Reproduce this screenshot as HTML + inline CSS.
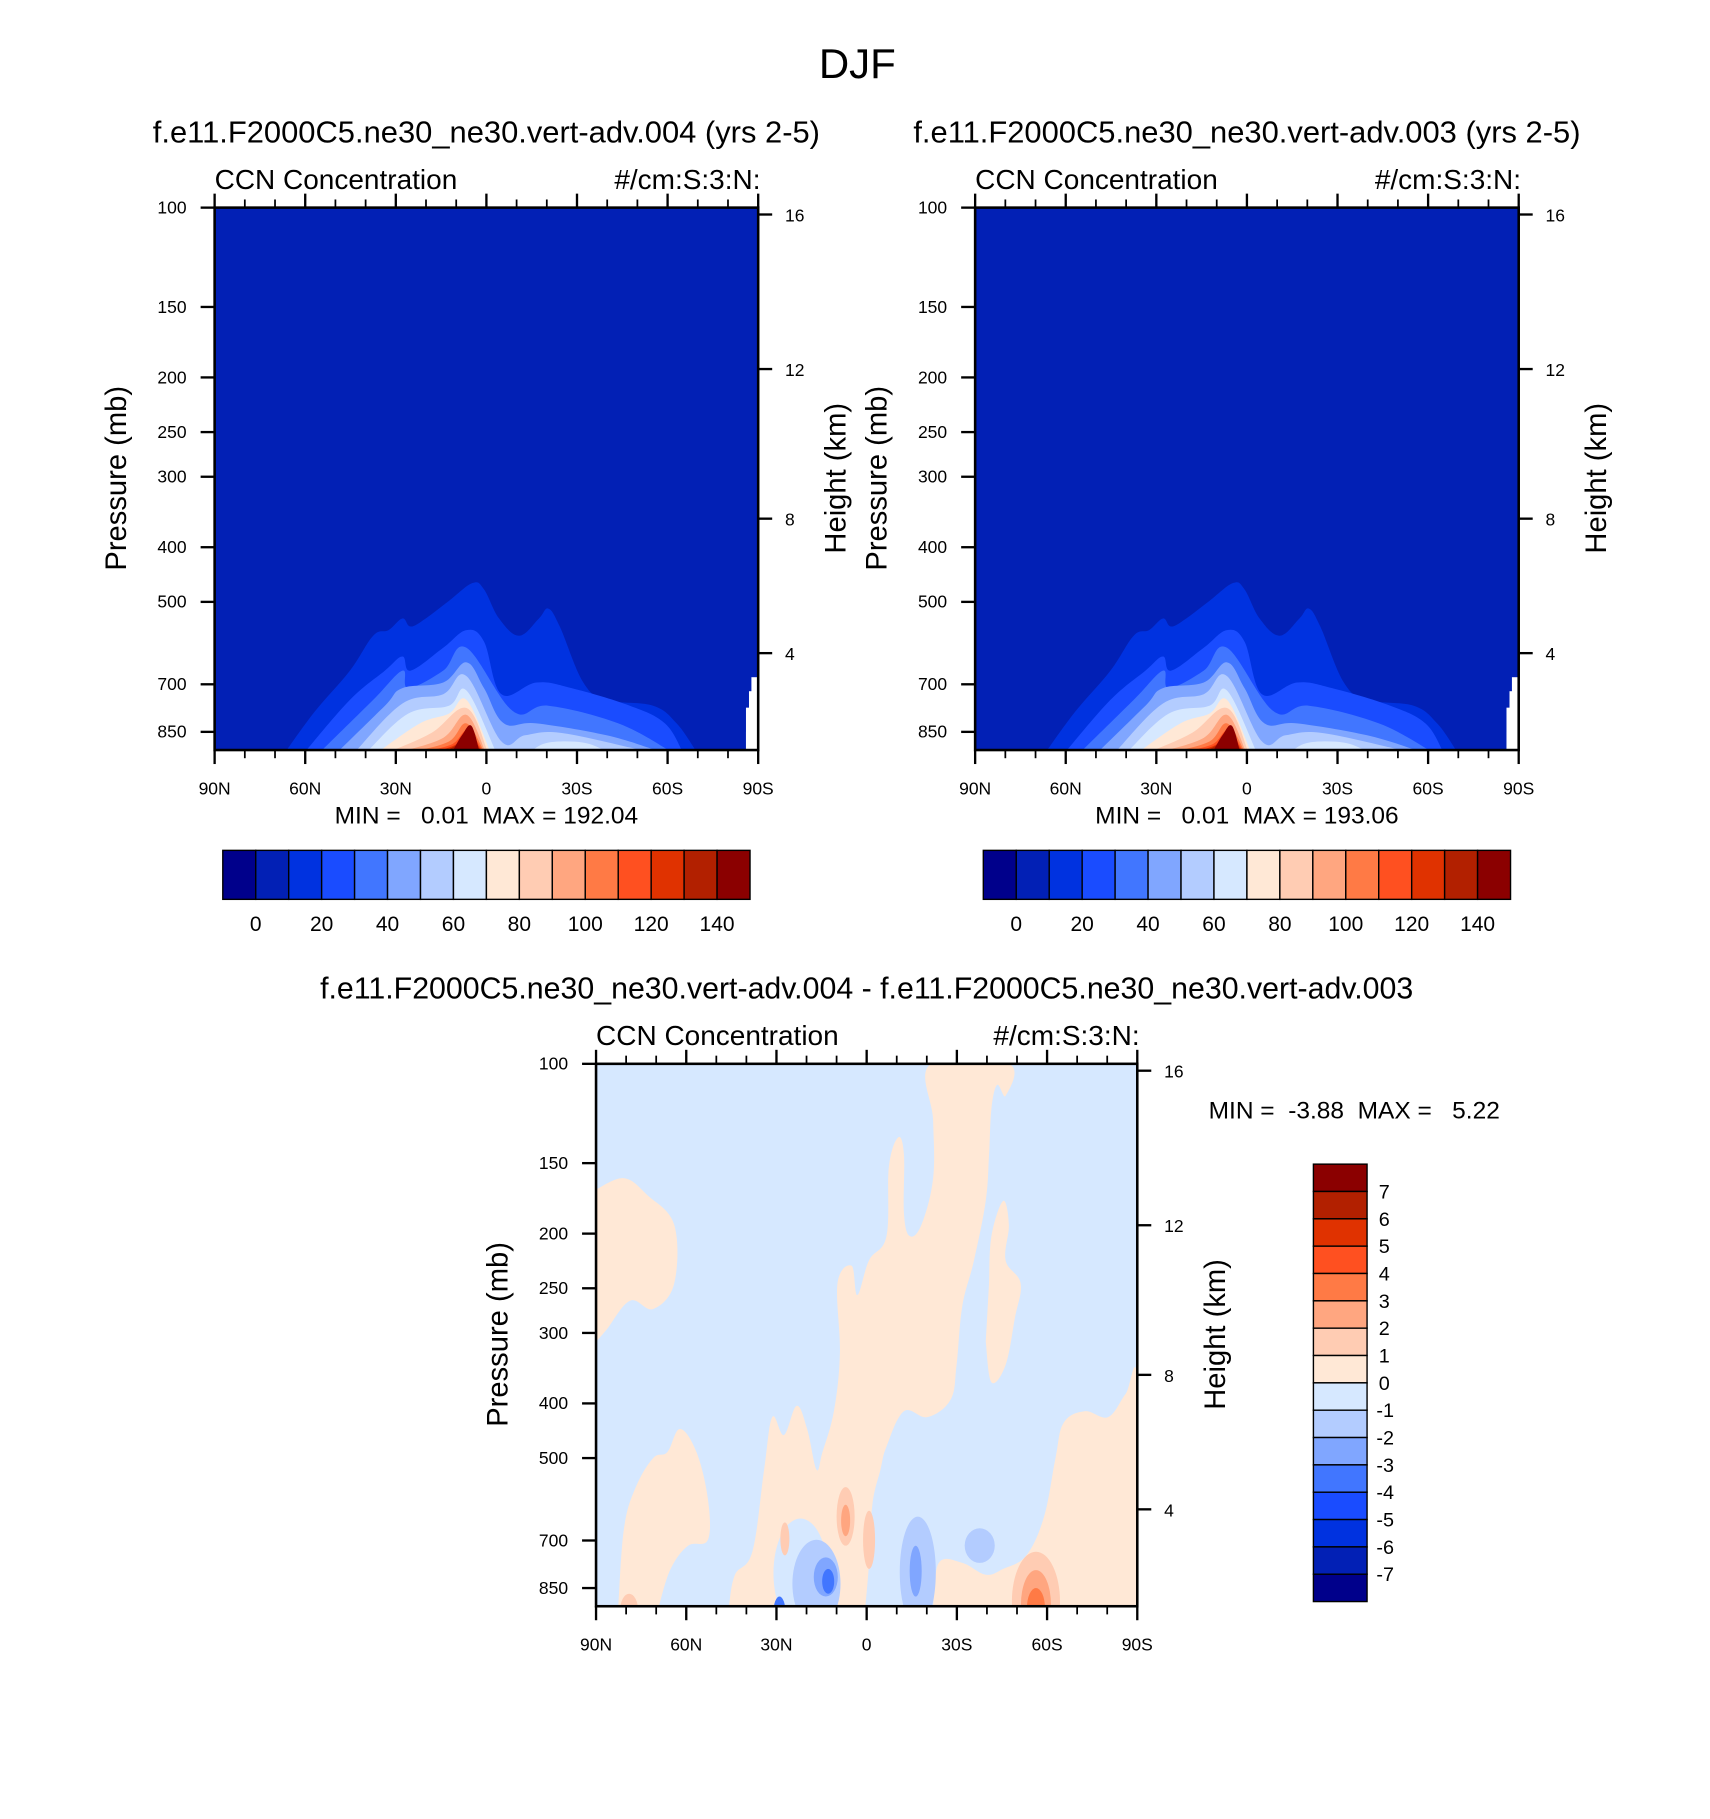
<!DOCTYPE html>
<html><head><meta charset="utf-8"><title>DJF CCN Concentration</title>
<style>html,body{margin:0;padding:0;background:#fff}svg{display:block}text{font-family:"Liberation Sans",Arial,sans-serif;fill:#000;white-space:pre}</style></head>
<body>
<svg id="fig" xmlns="http://www.w3.org/2000/svg" xml:space="preserve" width="1710" height="1819" viewBox="0 0 1466 1559.4" preserveAspectRatio="none">
<text x="735" y="67" font-size="36" text-anchor="middle">DJF</text>
<g id="p1"></g>
<g id="p2"></g>
<g id="p3"></g>
</svg>
<script>
// ---------- data ----------
const colors = ["#00008b","#0220b5","#0032e0","#1a4cff","#4176ff","#80a6ff","#b3ccff","#d6e8ff","#ffe8d6","#ffccb3","#ffa680","#ff7a45","#ff5020","#e03200","#b22000","#8b0000"];
const cbLabelsTop = ["0","20","40","60","80","100","120","140"];
const cbLabelsDiff = ["7","6","5","4","3","2","1","0","-1","-2","-3","-4","-5","-6","-7"];
const latTicks = [90,60,30,0,-30,-60,-90];
const latTickLabels = ["90N","60N","30N","0","30S","60S","90S"];
const pressureTicks = [100,150,200,250,300,400,500,700,850];
const heightTicks = [16,12,8,4];
const lvlIndex = [2,3,4,5,6,7,7,8,9,10,11,12,13,14,15];
const lvlLats = [
 [66.4,56.8,45.2,37.5,32.4,27.8,25.1,20.1,12.4,4.6,0.8,-4.2,-10.8,-17.4,-20.5,-24.3,-32.1,-39.8,-55.2,-63,-69.5],
 [59.9,45.2,33.6,27.8,25.1,14.3,6.6,0.8,-5,-16.6,-28.2,-47.5,-59.1,-64.9],
 [54.8,37.5,27.8,25.9,14.3,6.6,-8.9,-20.5,-43.7,-61],
 [49,33.6,27.8,14.3,6.6,0.8,-5.8,-16.6,-39.8,-57.2],
 [43.3,27.8,14.3,6.6,-5,-12.8,-24.3,-47.5,-51.4],
 [39.4,25.9,12.4,6.6,-3.1],
 [-14.7,-20.5,-32.1,-39.8],
 [35.5,22,12.4,6.6,-1.2],
 [31.7,18.1,6.6,-0.4],
 [27.8,14.3,6.6,0.4],
 [23.9,12.4,6.6,0.8],
 [20.1,11.2,6.2,1.2],
 [16.2,10.4,5.8,1.5],
 [13.5,9.2,5.4,1.9],
 [11.2,8.1,5,2.3]
];
const lvlPress = [
 [920,782,662,574,561,535,553,535,498,463,475,535,574,535,514,553,695,746,764,821,920],
 [920,746,662,625,662,603,561,588,729,695,711,764,821,920],
 [920,746,662,711,662,603,782,764,821,920],
 [920,764,711,695,640,711,821,821,862,920],
 [920,757,729,677,884,862,853,906,920],
 [920,789,764,718,920],
 [920,888,888,920],
 [920,821,789,746,920],
 [920,853,771,920],
 [920,871,793,920],
 [920,884,821,920],
 [920,893,845,920],
 [920,897,862,920],
 [920,893,871,920],
 [920,862,829,920]
];
const missLats = [-87.5,-88.5,-89.3,-90];
const missPress = [850,770,720,680];
const diffRegLats = [
 [90,80.7,72.9,64,64,71,78.7,86.5,90],
 [82.6,80.7,76.8,71,66.3,62.1,56.6,52.8,52.8,59.4,65.2,69.1],
 [45.8,43.8,38,34.1,31.4,27.5,23.3,19.8,16.7,14.7,10.9,8.9,9.7,5,3.1,-0.8,-6.6,-7.4,-10.5,-12.4,-12.4,-14.3,-18.2,-22.1,-22.1,-21.3,-47.3,-46.2,-43.4,-41.5,-40.7,-39.6,-35.7,-31.8,-29.9,-27.9,-20.2,-12.4,-6.6,-4.6,-1.9,-0.8,0.4],
 [-40.7,-41.5,-45.4,-47.3,-46.2,-51.2,-49.3,-46.2,-41.5,-39.6],
 [-22.1,-24,-31.8,-39.6,-45.4,-53.1,-59,-62.8,-65.5,-72.5,-80.3,-86.1,-90,-90]
];
const diffRegPress = [
 [167,159.5,171,193,245,272,263,296,311],
 [915,666,563,500,488,444,488,591,698,715,786,915],
 [915,805,732,524,423,455,404,444,524,488,413,326,245,228,257,223,202,152,135,145,184,202,193,159.5,126,100,100,114,109,120,145,175,223,269,342,394,423,413,477,524,605,767,915],
 [245,202,175,193,223,245,282,342,367,311],
 [915,767,767,805,786,744,635,500,433,413,423,385,367,915]
];
const blobLat = [22,7,7,-0.8,27.2,16.7,-17,-37.6,13.6,-16.3,12.8,29,-56.3,-56.3,-56.3,79];
const blobDLat = [9,3,1.5,2,1.5,8,6,5,4,2,2,2,8,5,3,3];
const blobP0 = [640,563,605,620,650,698,635,666,750,715,786,880,733,790,850,870];
const blobP1 = [1000,715,688,786,744,1000,1000,767,880,880,870,1000,1100,1050,1000,1000];
const blobBand = [7,9,10,9,9,6,6,6,5,5,4,4,9,10,11,9];

// ---------- helpers ----------
const NS="http://www.w3.org/2000/svg";
function mk(tag, attrs, parent){const e=document.createElementNS(NS,tag);for(const k in attrs)e.setAttribute(k,attrs[k]);if(parent)parent.appendChild(e);return e;}
function txt(parent,x,y,s,size,anchor){const t=mk("text",{x:x,y:y,"font-size":size,"text-anchor":anchor||"start"},parent);t.textContent=s;return t;}
function stdP(z){if(z<=11){return 1013.25*Math.pow((288.15-6.5*z)/288.15,5.256);}return 226.3*Math.exp(-(z-11)/6.34);}
function smoothPath(pts){let d="M"+pts[0][0]+","+pts[0][1];for(let i=0;i<pts.length-1;i++){const p0=pts[Math.max(0,i-1)],p1=pts[i],p2=pts[i+1],p3=pts[Math.min(pts.length-1,i+2)];const t=0.18;const c1=[p1[0]+(p2[0]-p0[0])*t,p1[1]+(p2[1]-p0[1])*t];const c2=[p2[0]-(p3[0]-p1[0])*t,p2[1]-(p3[1]-p1[1])*t];d+="C"+c1[0]+","+c1[1]+" "+c2[0]+","+c2[1]+" "+p2[0]+","+p2[1];}return d;}

function makeAxes(g,x0,y0,w,h,id){
  const X=lat=>x0+(90-lat)/180*w;
  const Y=p=>y0+210*Math.log(p/100);
  const clip=mk("clipPath",{id:"clip"+id},g);
  mk("rect",{x:x0,y:y0,width:w,height:h},clip);
  const field=mk("g",{"clip-path":"url(#clip"+id+")"},g);
  
  
  return {X,Y,field};
}
function drawFrame(g,ax,x0,y0,w,h){
  const {X,Y}=ax;
  const frame=mk("rect",{x:x0,y:y0,width:w,height:h,fill:"none",stroke:"#000","stroke-width":2.2},g);
  
  
  for(let lat=90;lat>=-90;lat-=10){
    const major=latTicks.indexOf(lat)>=0;const L=major?12:7;const x=X(lat);
    mk("line",{x1:x,y1:y0,x2:x,y2:y0-L,stroke:"#000","stroke-width":major?2:1.5},g);
    mk("line",{x1:x,y1:y0+h,x2:x,y2:y0+h+L,stroke:"#000","stroke-width":major?2:1.5},g);
  }
  latTicks.forEach((lat,i)=>{const t=txt(g,X(lat),y0+h+38,latTickLabels[i],15,"middle");
    
    });
  pressureTicks.forEach(p=>{const y=Y(p);mk("line",{x1:x0,y1:y,x2:x0-12,y2:y,stroke:"#000","stroke-width":2},g);
    const t=txt(g,x0-24,y+5,String(p),15,"end");
    
    });
  heightTicks.forEach(z=>{const y=Y(stdP(z));mk("line",{x1:x0+w,y1:y,x2:x0+w+12,y2:y,stroke:"#000","stroke-width":2},g);
    const t=txt(g,x0+w+23,y+6,String(z),15,"start");
    
    });
  const yt=txt(g,0,0,"Pressure (mb)",25,"middle");yt.setAttribute("transform","translate("+(x0-76)+","+(y0+232)+") rotate(-90)");
  
  
  const ht=txt(g,0,0,"Height (km)",25,"middle");ht.setAttribute("transform","translate("+(x0+w+75)+","+(y0+232)+") rotate(-90)");
  
  
  const l=txt(g,x0,y0-16,"CCN Concentration",24,"start");
  
  
  const u=txt(g,x0+w+2,y0-16,"#/cm:S:3:N:",24,"end");
  
  
}
function topPanel(g,x0,title,maxStr){
  const y0=178,w=466,h=465;
  const ax=makeAxes(g,x0,y0,w,h,x0);
  const {X,Y,field}=ax;
  const bg=mk("rect",{x:x0,y:y0,width:w,height:h,fill:colors[1]},field);
  
  
  lvlLats.forEach((lats,i)=>{
    const pts=lats.map((la,j)=>[X(la),Y(lvlPress[i][j])]);
    let d=smoothPath(pts)+"L"+pts[pts.length-1][0]+","+(y0+h+20)+"L"+pts[0][0]+","+(y0+h+20)+"Z";
    const pth=mk("path",{d:d,fill:colors[lvlIndex[i]]},field);
    
    
  });
  missLats.forEach((la,i)=>{
    const xa=X(la),xb=(i===0?X(la)+5:X(missLats[i-1]));
    const r=mk("rect",{x:Math.min(xa,xb)-4,y:Y(missPress[i]),width:Math.abs(xb-xa)+4,height:y0+h-Y(missPress[i]),fill:"#fff"},field);
    
    
  });
  drawFrame(g,ax,x0,y0,w,h);
  const t=txt(g,x0+w/2,122,title,26.5,"middle");
  
  
  const mm=txt(g,x0+w/2,706,"MIN =   0.01  MAX = "+maxStr,21,"middle");
  
  
  const cbx=x0+7,cbw=452,cby=729,cbh=42,bw=cbw/colors.length;
  const cb=mk("g",{},g);
  
  
  colors.forEach((c,i)=>{const r=mk("rect",{x:cbx+i*bw,y:cby,width:bw,height:cbh,fill:c,stroke:"#000","stroke-width":1.2},cb);
    
    });
  cbLabelsTop.forEach((s,i)=>{const t2=txt(cb,cbx+(1+2*i)*bw,cby+cbh+27,s,18,"middle");
    
    });
}
topPanel(document.getElementById("p1"),184,"f.e11.F2000C5.ne30_ne30.vert-adv.004 (yrs 2-5)","192.04");
topPanel(document.getElementById("p2"),836,"f.e11.F2000C5.ne30_ne30.vert-adv.003 (yrs 2-5)","193.06");

(function(){
  const g=document.getElementById("p3");
  const x0=511,y0=912,w=464,h=465;
  const ax=makeAxes(g,x0,y0,w,h,"d");
  const {X,Y,field}=ax;
  const bg=mk("rect",{x:x0,y:y0,width:w,height:h,fill:colors[7]},field);
  
  
  diffRegLats.forEach((lats,i)=>{
    const pts=lats.map((la,j)=>[X(la),Y(diffRegPress[i][j])]);
    const pth=mk("path",{d:smoothPath(pts)+"Z",fill:colors[8]},field);
    
    
  });
  blobLat.forEach((la,i)=>{
    const ya=Y(blobP0[i]),yb=Y(blobP1[i]);
    const e=mk("ellipse",{cx:X(la),cy:(ya+yb)/2,rx:Math.abs(X(la+blobDLat[i])-X(la)),ry:(yb-ya)/2,fill:colors[blobBand[i]]},field);
    
    
  });
  drawFrame(g,ax,x0,y0,w,h);
  const t=txt(g,743,856,"f.e11.F2000C5.ne30_ne30.vert-adv.004 - f.e11.F2000C5.ne30_ne30.vert-adv.003",26,"middle");
  
  
  const mm=txt(g,1161,959,"MIN =  -3.88  MAX =   5.22",21,"middle");
  
  
  const cb=mk("g",{},g);
  
  
  const cbx=1126,cbw=46,cby=998,cbh=375,bh=cbh/colors.length;
  colors.slice().reverse().forEach((c,i)=>{const r=mk("rect",{x:cbx,y:cby+i*bh,width:cbw,height:bh,fill:c,stroke:"#000","stroke-width":1.2},cb);
    
    });
  cbLabelsDiff.forEach((s,i)=>{const t2=txt(cb,cbx+cbw+(s[0]==="-"?8:10),cby+(i+1)*bh+6,s,17,"start");
    
    });
})();
</script>
</body></html>
